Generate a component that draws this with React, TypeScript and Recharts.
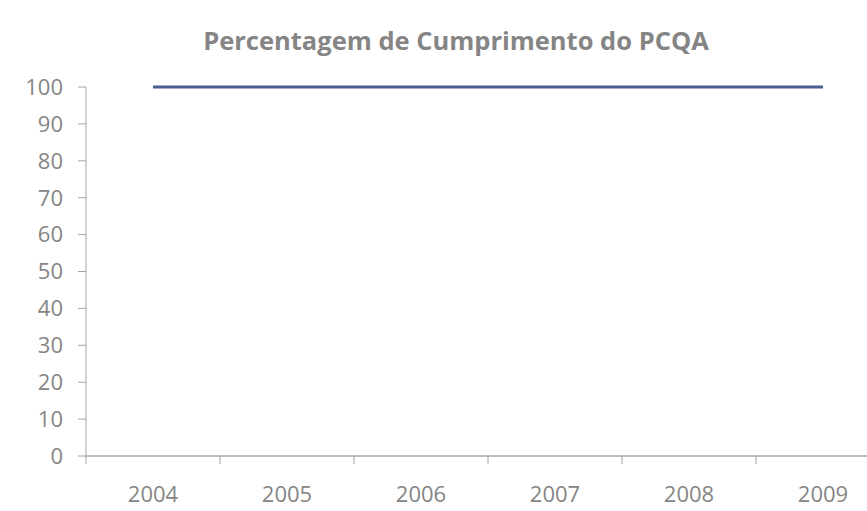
import React from 'react';
import { LineChart, Line, XAxis, YAxis } from 'recharts';

// Chart data
const years = ['2004', '2005', '2006', '2007', '2008', '2009'];
const cumprimento = [100, 100, 100, 100, 100, 100];
const yTicks = [0, 10, 20, 30, 40, 50, 60, 70, 80, 90, 100];

const FONT = '"Open Sans", sans-serif';
const TEXT_GRAY = '#858585';
const AXIS_GRAY = '#a6a6a6';
const LINE_BLUE = '#4a5f8f';

// layout
const CHART_WIDTH = 890;
const CHART_HEIGHT = 511;
const MARGIN = { top: 87, right: 0, bottom: 0, left: 26 };
const Y_AXIS_WIDTH = 60;
const PLOT_WIDTH = CHART_WIDTH - MARGIN.left - MARGIN.right - Y_AXIS_WIDTH;
const BAND = PLOT_WIDTH / years.length;

const data = years.map((year, i) => ({
  year,
  pos: i + 0.5,
  value: cumprimento[i],
}));
const boundaryTicks = years.map((_, i) => i).concat(years.length);

// year label sits in the middle of each band, tick lines on band edges
const YearTick = (props: any) => {
  const { x, y, payload } = props;
  const label = years[payload.value];
  if (label === undefined) return null;
  return (
    <text
      x={x + BAND / 2}
      y={y}
      dy="0.71em"
      textAnchor="middle"
      fill={TEXT_GRAY}
      fontSize={22}
      fontFamily={FONT}
    >
      {label}
    </text>
  );
};

const App: React.FC = () => {
  return (
    <div
      style={{
        position: 'absolute',
        left: 0,
        top: 0,
        width: 867,
        height: 511,
        overflow: 'hidden',
        background: '#fff',
      }}
    >
      <div
        style={{
          position: 'absolute',
          left: 0,
          top: 21,
          width: 912,
          textAlign: 'center',
          fontFamily: FONT,
          fontWeight: 700,
          fontSize: 25.5,
          lineHeight: '38px',
          color: TEXT_GRAY,
        }}
      >
        Percentagem de Cumprimento do PCQA
      </div>
      <LineChart width={CHART_WIDTH} height={CHART_HEIGHT} data={data} margin={MARGIN}>
        <XAxis
          dataKey="pos"
          type="number"
          domain={[0, years.length]}
          ticks={boundaryTicks}
          interval={0}
          height={55}
          stroke={AXIS_GRAY}
          axisLine={{ stroke: AXIS_GRAY, strokeWidth: 1.5 }}
          tickLine={{ stroke: AXIS_GRAY }}
          tickSize={8}
          tickMargin={22}
          tick={<YearTick />}
        />
        <YAxis
          width={Y_AXIS_WIDTH}
          domain={[0, 100]}
          ticks={yTicks}
          interval={0}
          axisLine={{ stroke: AXIS_GRAY }}
          tickLine={{ stroke: AXIS_GRAY }}
          tickSize={8}
          tickMargin={15}
          tick={{ fill: TEXT_GRAY, fontSize: 22, fontFamily: FONT }}
        />
        <Line
          type="linear"
          dataKey="value"
          stroke={LINE_BLUE}
          strokeWidth={3}
          dot={false}
          isAnimationActive={false}
        />
      </LineChart>
    </div>
  );
};

export default App;
